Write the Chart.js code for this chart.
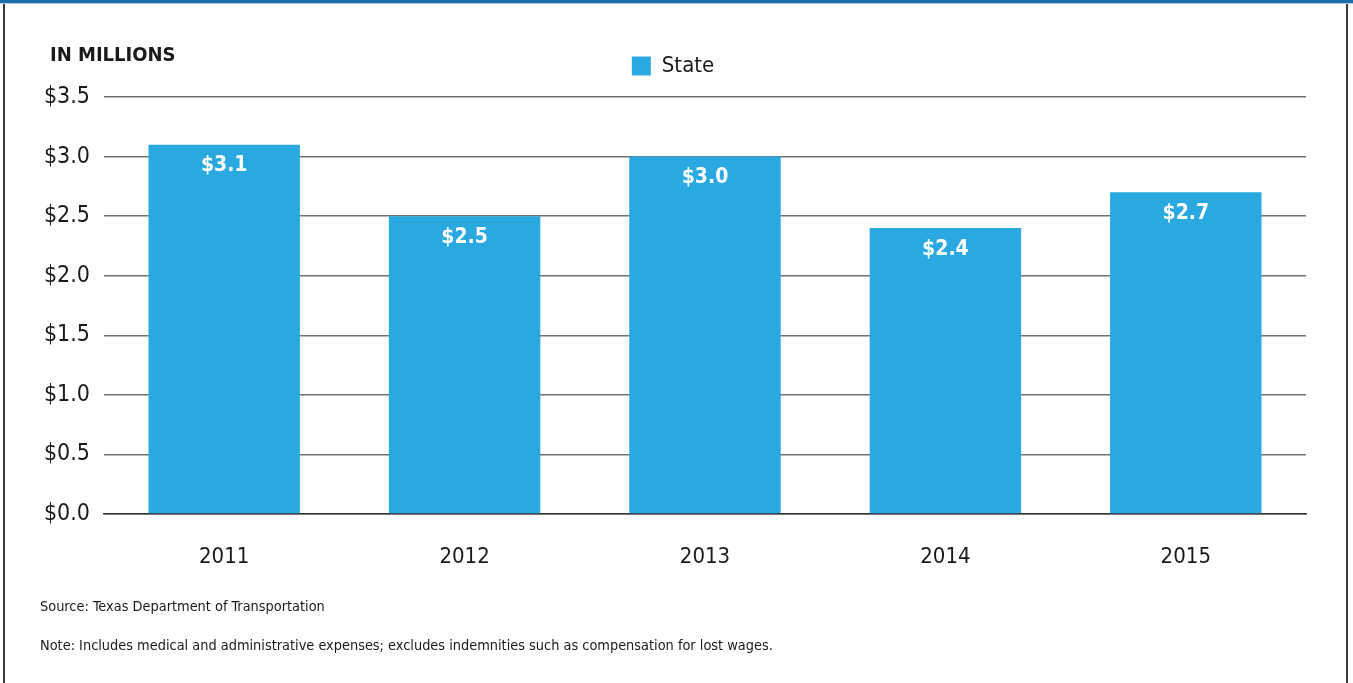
<!DOCTYPE html>
<html>
<head>
<meta charset="utf-8">
<script src="https://cdn.jsdelivr.net/npm/chart.js@4"></script>
<style>
  body { margin: 0; background: #fff; }
  #wrap { position: relative; width: 1353px; height: 683px; overflow: hidden; }
  #chart-box { position: absolute; left: 0; top: 0; width: 1353px; height: 683px; }
  .frame-top { position: absolute; left: 0; top: 0; width: 1353px; height: 3px; background: #1c6fae; border-bottom: 1px solid #a9cbe6; }
  .frame-side { position: absolute; top: 4px; bottom: 0; width: 2px; background: #3a3a3a; }
  .txt { position: absolute; font-family: 'DejaVu Sans Condensed', 'Liberation Sans Narrow', sans-serif; color: #1a1a1a; white-space: nowrap; }
  .unit { left: 50px; top: 42px; font-size: 20px; font-weight: bold; }
  .foot { left: 40px; font-size: 14.4px; }
</style>
</head>
<body>
<div id="wrap">
  <div id="chart-box"><canvas id="costs"></canvas></div>
  <div class="frame-top"></div>
  <div class="frame-side" style="left:3px"></div>
  <div class="frame-side" style="left:1346px"></div>
  <div class="txt unit">IN MILLIONS</div>
  <div class="txt foot" style="top:598px">Source: Texas Department of Transportation</div>
  <div class="txt foot" style="top:637px">Note: Includes medical and administrative expenses; excludes indemnities such as compensation for lost wages.</div>
</div>
<script>
const years = ['2011', '2012', '2013', '2014', '2015'];
const stateCosts = [3.1, 2.5, 3.0, 2.4, 2.7];
const seriesName = 'State';

const FONT = "'DejaVu Sans Condensed', 'Liberation Sans Narrow', sans-serif";
const BLUE = '#29a9e0';

// white value labels inside top of each bar
const barLabels = {
  id: 'barLabels',
  afterDatasetsDraw(chart) {
    const ctx = chart.ctx;
    const meta = chart.getDatasetMeta(0);
    ctx.save();
    ctx.fillStyle = '#fff';
    ctx.font = 'bold 21px ' + FONT;
    ctx.textAlign = 'center';
    ctx.textBaseline = 'middle';
    meta.data.forEach((bar, i) => {
      ctx.fillText('$' + stateCosts[i].toFixed(1), bar.x, bar.y + 21);
    });
    ctx.restore();
  }
};

// a bit more room under the legend
const legendGap = {
  id: 'legendGap',
  afterInit(chart) {
    const fit = chart.legend.fit;
    chart.legend.fit = function () {
      fit.call(this);
      this.height += 10;
    };
  }
};

new Chart(document.getElementById('costs'), {
  type: 'bar',
  data: {
    labels: years,
    datasets: [{
      label: seriesName,
      data: stateCosts,
      backgroundColor: BLUE,
      categoryPercentage: 1,
      barPercentage: 0.63
    }]
  },
  options: {
    responsive: true,
    maintainAspectRatio: false,
    animation: false,
    layout: { padding: { left: 40, right: 47, top: 44, bottom: 109 } },
    plugins: {
      tooltip: { enabled: false },
      legend: {
        labels: {
          boxWidth: 19,
          boxHeight: 19,
          padding: 11,
          color: '#1a1a1a',
          font: { family: FONT, size: 22 }
        }
      }
    },
    scales: {
      x: {
        grid: { display: false },
        border: { color: '#333', width: 1.5 },
        ticks: { color: '#1a1a1a', padding: 22, font: { family: FONT, size: 22 } },
        afterFit(scale) { scale.height = 60; }
      },
      y: {
        min: 0,
        max: 3.5,
        border: { display: false },
        grid: { color: '#707070', lineWidth: 1.5, drawTicks: false },
        ticks: {
          stepSize: 0.5,
          padding: 14,
          color: '#1a1a1a',
          font: { family: FONT, size: 23 },
          callback: v => '$' + v.toFixed(1)
        },
        afterFit(scale) { scale.width = 64; }
      }
    }
  },
  plugins: [barLabels, legendGap]
});
</script>
</body>
</html>
